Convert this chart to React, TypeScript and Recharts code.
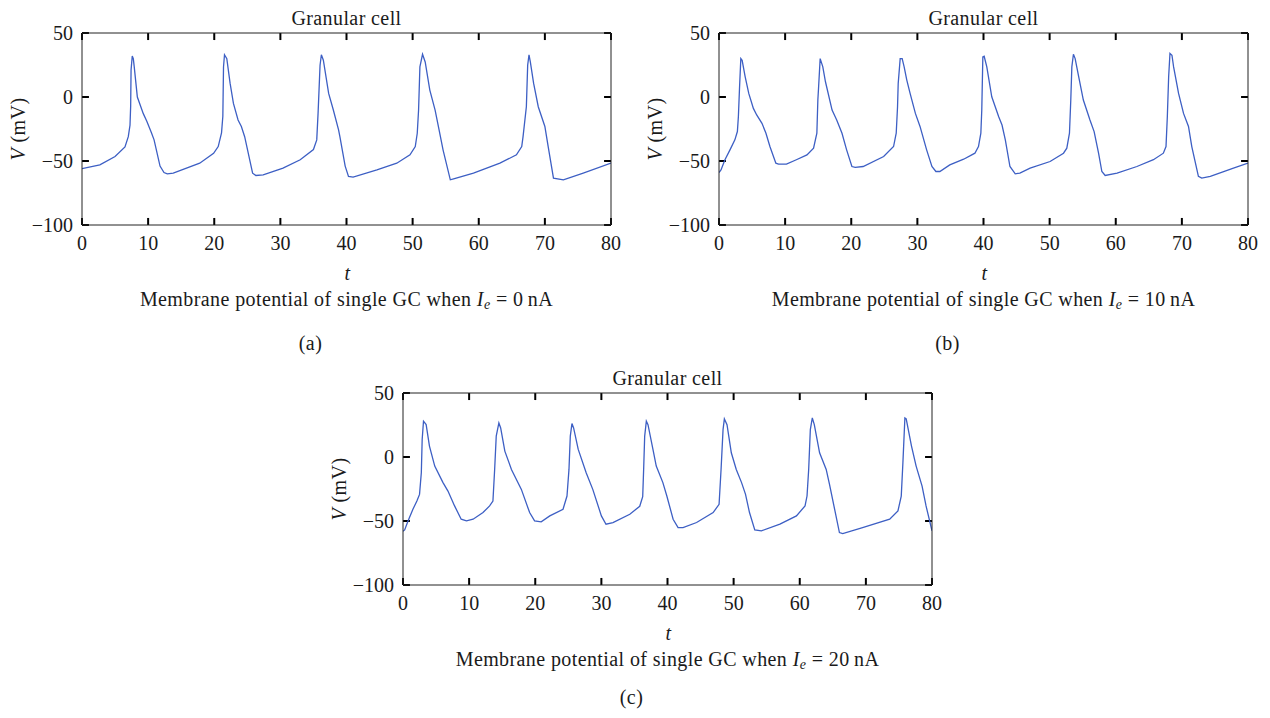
import { LineChart, Line, XAxis, YAxis, ReferenceLine } from 'recharts';

const SERIF = '"Liberation Serif", "Times New Roman", serif';
const LINE_COLOR = '#3d5fc4';
const TEXT_COLOR = '#1a1a1a';

const X_TICKS = [0, 10, 20, 30, 40, 50, 60, 70, 80];
const Y_TICKS = [-100, -50, 0, 50];
const X_DOMAIN: [number, number] = [0, 80];
const Y_DOMAIN: [number, number] = [-100, 50];
const PANEL_TITLE = 'Granular cell';

// [t, V (mV)]
const traceA: [number, number][] = [
  [0, -56], [2.7, -53], [5.0, -46.5], [6.5, -39], [7.0, -31], [7.26, -22], [7.36, -7], [7.42, 21],
  [7.6, 32], [7.76, 30], [7.9, 23.5], [8.37, 0], [9.27, -13], [9.8, -19], [10.5, -28], [10.9, -33.5],
  [11.8, -54], [12.4, -59], [12.9, -60], [13.8, -59.5], [17.8, -51.7], [19.9, -44], [20.6, -38.7],
  [21.1, -28], [21.3, -15], [21.4, 23.5], [21.55, 33], [21.9, 30], [22.4, 10.6], [22.9, -5],
  [23.6, -18], [24.1, -23], [24.6, -31], [25.8, -59.5], [26.3, -61.3], [27.4, -60.8], [30.4, -55.6],
  [33.0, -49], [35.0, -41], [35.5, -33.5], [35.7, -12.8], [36.0, 24.8], [36.2, 33], [36.5, 28.7],
  [37.3, 2.8], [38.0, -10], [38.8, -25.7], [39.0, -31], [39.8, -54], [40.3, -62], [41.0, -62.6],
  [44.6, -57], [47.6, -51.7], [49.6, -45.2], [50.4, -38.7], [50.7, -28.3], [50.9, -10.2],
  [51.1, 23.5], [51.5, 33.4], [51.9, 27.4], [52.6, 5.4], [53.4, -10.2], [54.0, -25.7], [54.6, -41.3],
  [55.7, -64.7], [56.2, -64], [59.2, -59.5], [63.2, -51.7], [65.7, -45.2], [66.5, -38.7],
  [66.7, -31], [67.2, -7.6], [67.4, 24.9], [67.6, 33], [67.8, 27.4], [68.3, 10.6], [69.0, -7.6],
  [70.0, -23], [70.5, -38.7], [71.3, -63.4], [72.8, -64.7], [75.8, -59.5], [80, -51.7],
];

const traceB: [number, number][] = [
  [0, -59], [0.3, -57], [0.9, -49], [1.66, -41.3], [2.4, -33.5], [2.78, -27], [2.93, -15.4],
  [3.1, 6.7], [3.3, 30], [3.5, 28.7], [3.96, 15.8], [4.5, 2.8], [5.2, -8.9], [5.7, -14], [6.5, -20.6],
  [7.1, -28.3], [7.7, -38.7], [8.6, -51.7], [9.0, -52.5], [10.2, -52.5], [11.7, -49], [13.3, -45.2],
  [14.3, -40], [14.8, -28.3], [14.95, -2.4], [15.05, 6.7], [15.3, 30], [15.7, 23.5], [16.1, 11.9],
  [17.1, -10.2], [17.8, -18], [18.6, -28.3], [19.3, -41.3], [20.1, -54.3], [20.6, -55],
  [21.8, -54.3], [24.9, -46.5], [26.4, -38.7], [26.8, -28.3], [27.0, -7.6], [27.1, 10.6],
  [27.4, 30], [27.7, 30], [28.0, 23.5], [28.4, 13.2], [28.9, 2.8], [29.7, -12.8], [30.4, -23],
  [31.4, -41.3], [32.2, -54.3], [32.8, -58.2], [33.4, -58.2], [34.9, -53], [37.0, -48.6],
  [38.7, -43.9], [39.24, -38.7], [39.6, -28.3], [39.74, -10.2], [39.9, 31.3], [40.1, 31.8],
  [40.5, 23.5], [41.25, 0.2], [42.3, -15.4], [42.8, -21.9], [43.3, -33.5], [44.0, -54.3],
  [44.8, -60], [45.5, -59.5], [47.05, -55.6], [50.07, -50.4], [52.1, -43.9], [52.6, -40],
  [53.0, -28.3], [53.2, -2.4], [53.36, 23.5], [53.6, 33.4], [53.86, 30], [54.4, 15.8], [55.1, -2.4],
  [56.1, -18], [56.73, -27], [57.4, -43.9], [57.9, -58.2], [58.4, -61.3], [60.2, -59.5],
  [63.2, -54.3], [65.7, -49], [67.2, -43.9], [67.6, -38.7], [67.8, -15.4], [68.0, 15.8], [68.2, 34],
  [68.5, 32.6], [68.75, 23.5], [69.5, 2.8], [70.25, -12.8], [71.0, -23], [71.5, -38.7], [72.5, -62],
  [73.0, -63.4], [74.3, -62], [77.8, -55.6], [80, -51.7],
];

const traceC: [number, number][] = [
  [0, -58], [0.25, -57], [0.76, -50], [1.5, -40.8], [2.1, -34.4], [2.5, -29.2], [2.77, -12.3],
  [2.9, 13.7], [3.1, 28], [3.5, 25.3], [4.0, 8.5], [4.8, -7.1], [6.05, -20], [6.8, -26.6],
  [7.8, -38.2], [8.8, -48.6], [9.6, -49.9], [10.6, -48.6], [12.1, -43.4], [13.1, -38.2],
  [13.6, -34.4], [13.86, -9.7], [14.1, 16.3], [14.5, 26.6], [14.77, 22.7], [15.4, 4.6], [16.4, -9.7],
  [17.9, -25.3], [19.15, -43.4], [19.9, -49.9], [20.9, -50.7], [22.2, -46], [24.2, -40.8],
  [24.8, -30.5], [25.1, -9.7], [25.3, 16.3], [25.55, 26.1], [25.8, 22.7], [26.5, 5.9], [27.7, -12.3],
  [28.7, -25.3], [30.0, -46], [30.7, -52.5], [31.75, -51.2], [34.3, -44.7], [35.8, -38.5],
  [36.25, -31], [36.4, -8.5], [36.55, 16.3], [36.8, 28], [37.05, 25.3], [37.8, 5.9], [38.3, -7.1],
  [39.3, -20], [39.9, -30.5], [40.85, -48.6], [41.6, -55.1], [42.35, -55.1], [44.4, -51.2],
  [46.9, -43.4], [47.8, -37], [48.1, -9.7], [48.4, 21.4], [48.6, 29.8], [49.0, 25.3], [49.65, 3.3],
  [50.4, -9.7], [51.2, -20], [51.8, -29.2], [52.4, -43.4], [53.2, -56.9], [54.2, -57.7], [57.0, -52.5],
  [59.5, -46], [60.8, -38.2], [61.1, -30.5], [61.35, -9.7], [61.6, 21.4], [61.9, 30.5], [62.2, 25.3],
  [63.0, 3.3], [64.0, -9.7], [64.5, -21.4], [66.0, -59], [66.5, -59.8], [69.5, -55.1], [73.6, -48.6],
  [74.85, -42.1], [75.35, -30.5], [75.6, -4.5], [75.9, 30.5], [76.1, 29.8], [76.9, 8.5], [77.6, -7.1],
  [78.5, -22.7], [79.1, -38.2], [80, -57.7],
];

const fmtY = (v: number) => (v < 0 ? `\u2212${Math.abs(v)}` : `${v}`);

// inward tick length, in axis units (about 7px each way for a 529x192 box)
const TICK_DX = 1.05;
const TICK_DY = 5.5;

const axisLine = { stroke: '#222', strokeWidth: 1 };
const tickFont = { fill: TEXT_COLOR, fontSize: 20, fontFamily: SERIF };
const tickMark = { stroke: '#000', strokeWidth: 2, ifOverflow: 'visible' as const };

const centered = (x: number, y: number, extra: React.CSSProperties = {}): React.CSSProperties => ({
  position: 'absolute',
  left: x,
  top: y,
  transform: 'translate(-50%, -50%)',
  whiteSpace: 'nowrap',
  fontFamily: SERIF,
  fontSize: 20,
  letterSpacing: 0.4,
  color: TEXT_COLOR,
  lineHeight: 1,
  ...extra,
});

interface PanelProps {
  left: number;
  top: number;
  trace: [number, number][];
  current: number;
  letter: string;
  letterY: number;
}

function Panel({ left, top, trace, current, letter, letterY }: PanelProps) {
  const data = trace.map(([t, v]) => ({ t, v }));
  const cx = 346.5;
  const [x0, x1] = X_DOMAIN;
  const [y0, y1] = Y_DOMAIN;

  // plot box: x 82..611, y 33..225 inside a 640x360 chart
  return (
    <div style={{ position: 'absolute', left, top, width: 640, height: 360 }}>
      <LineChart
        width={640}
        height={360}
        data={data}
        margin={{ top: 23, left: 22, right: 19, bottom: 105 }}
      >
        <XAxis
          dataKey="t"
          type="number"
          domain={X_DOMAIN}
          ticks={X_TICKS}
          interval={0}
          height={30}
          allowDataOverflow
          axisLine={axisLine}
          tickLine={false}
          tickSize={7}
          tickMargin={4}
          tick={tickFont}
        />
        <XAxis
          xAxisId="top"
          orientation="top"
          type="number"
          domain={X_DOMAIN}
          ticks={X_TICKS}
          height={10}
          axisLine={axisLine}
          tickLine={false}
          tick={false}
        />
        <YAxis
          type="number"
          domain={Y_DOMAIN}
          ticks={Y_TICKS}
          interval={0}
          width={60}
          allowDataOverflow
          axisLine={axisLine}
          tickLine={false}
          tickSize={7}
          tickMargin={2}
          tick={tickFont}
          tickFormatter={fmtY}
        />
        <YAxis
          yAxisId="right"
          orientation="right"
          type="number"
          domain={Y_DOMAIN}
          ticks={Y_TICKS}
          width={10}
          axisLine={axisLine}
          tickLine={false}
          tick={false}
        />

        {X_TICKS.map((t) => (
          <ReferenceLine key={`b${t}`} segment={[{ x: t, y: y0 }, { x: t, y: y0 + TICK_DY }]} {...tickMark} />
        ))}
        {X_TICKS.map((t) => (
          <ReferenceLine key={`t${t}`} segment={[{ x: t, y: y1 }, { x: t, y: y1 - TICK_DY }]} {...tickMark} />
        ))}
        {Y_TICKS.map((v) => (
          <ReferenceLine key={`l${v}`} segment={[{ x: x0, y: v }, { x: x0 + TICK_DX, y: v }]} {...tickMark} />
        ))}
        {Y_TICKS.map((v) => (
          <ReferenceLine key={`r${v}`} segment={[{ x: x1 - TICK_DX, y: v }, { x: x1, y: v }]} {...tickMark} />
        ))}

        <Line
          type="linear"
          dataKey="v"
          stroke={LINE_COLOR}
          strokeWidth={1.3}
          dot={false}
          isAnimationActive={false}
        />
      </LineChart>

      <div style={centered(cx, 18)}>{PANEL_TITLE}</div>
      <div style={centered(18, 129, { transform: 'translate(-50%, -50%) rotate(-90deg)' })}>
        <i>V</i> (mV)
      </div>
      <div style={centered(cx + 1, 273)}>
        <i>t</i>
      </div>
      <div style={centered(cx, 300)}>
        Membrane potential of single GC when <i>I</i>
        <sub style={{ fontSize: 14, verticalAlign: '-3px' }}>
          <i>e</i>
        </sub>{' '}
        = {current}&thinsp;nA
      </div>
      <div style={centered(cx - 36, letterY)}>({letter})</div>
    </div>
  );
}

export default function App() {
  return (
    <div style={{ position: 'absolute', left: 0, top: 0, width: 1270, height: 718, background: '#fff' }}>
      <Panel left={0} top={0} trace={traceA} current={0} letter="a" letterY={343} />
      <Panel left={637} top={0} trace={traceB} current={10} letter="b" letterY={343} />
      <Panel left={321} top={360} trace={traceC} current={20} letter="c" letterY={337} />
    </div>
  );
}
